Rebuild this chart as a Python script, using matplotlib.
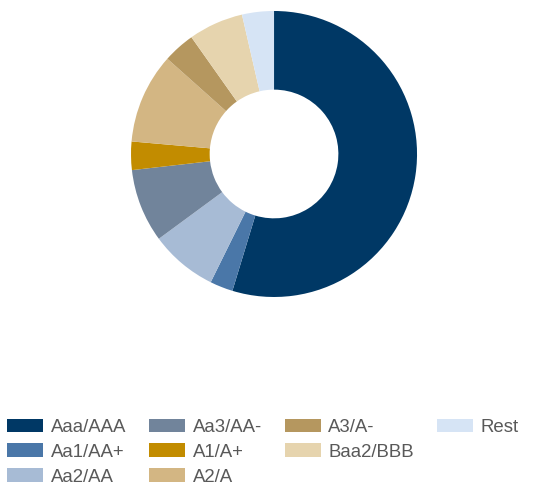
import matplotlib
matplotlib.use("Agg")
import matplotlib.pyplot as plt
from matplotlib.patches import Patch

plt.rcParams['font.family'] = ['Liberation Sans', 'DejaVu Sans']

# rating buckets (share of portfolio, %)
labels = ['Aaa/AAA', 'Aa1/AA+', 'Aa2/AA', 'Aa3/AA-', 'A1/A+',
          'A2/A', 'A3/A-', 'Baa2/BBB', 'Rest']
shares = [54.7, 2.6, 7.6, 8.3, 3.2, 10.2, 3.6, 6.2, 3.6]
colors = ['#003865', '#4a77a8', '#a7bbd5', '#71849b', '#c28c00',
          '#d3b683', '#b5975f', '#e6d4ae', '#d6e4f5']

fig = plt.figure(figsize=(5.35, 4.86), dpi=100)

# donut
ax = fig.add_axes([0.2449, 0.3889, 0.5346, 0.5885])
ax.pie(shares, colors=colors, startangle=90, counterclock=False,
       wedgeprops=dict(width=0.55, linewidth=0))
ax.set_xlim(-1, 1)
ax.set_ylim(-1, 1)
ax.set_aspect('equal')
ax.axis('off')

# legend: 4 columns, 3 rows, filled top to bottom (blanks pad the last columns)
handles = [Patch(facecolor=c, edgecolor='none', label=l) for c, l in zip(colors, labels)]
blank = lambda: Patch(facecolor='none', edgecolor='none', label=' ')
slots = handles[:8] + [blank(), handles[8], blank(), blank()]
leg = fig.legend(handles=slots, loc='lower left', bbox_to_anchor=(7 / 535, 0.5 / 486),
                 ncol=4, frameon=False, fontsize=13.4,
                 handlelength=1.95, handleheight=0.75, handletextpad=0.4,
                 labelspacing=0.4, columnspacing=1.22, borderaxespad=0.0,
                 borderpad=0.0)
for t in leg.get_texts():
    t.set_color('#595959')

fig.savefig('out.png', dpi=100)
